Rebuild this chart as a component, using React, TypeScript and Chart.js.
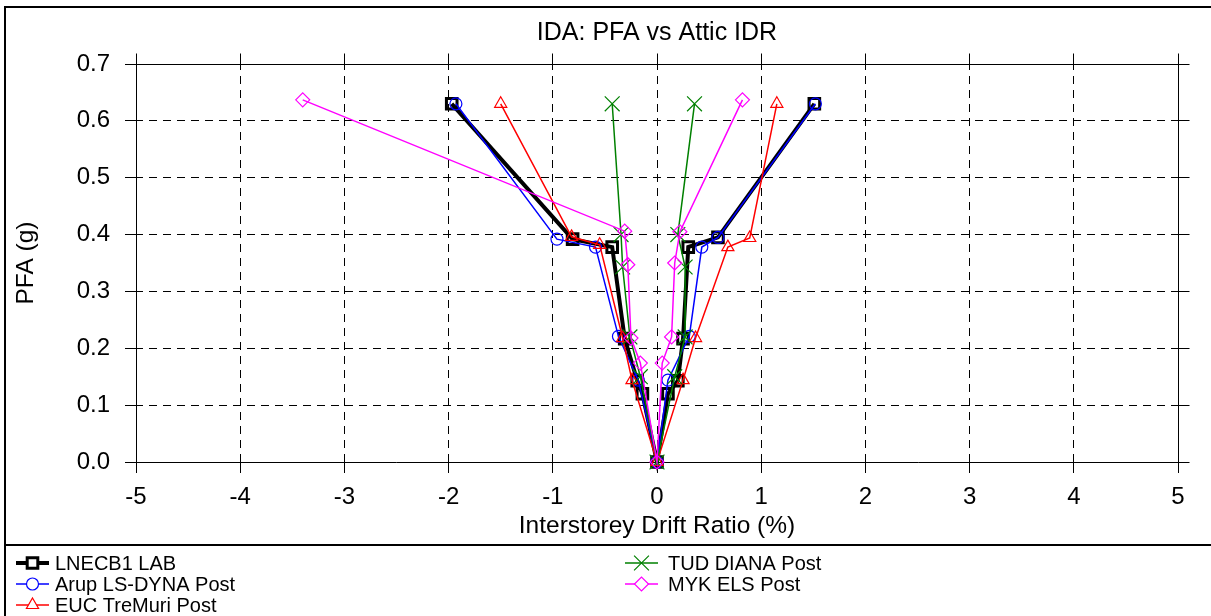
import React, { useEffect, useRef } from 'react';
import { Chart, registerables } from 'chart.js';

Chart.register(...registerables);

const FONT = '"Liberation Sans", Arial, Helvetica, sans-serif';

const chartTitle = 'IDA: PFA vs Attic IDR';
const xAxisTitle = 'Interstorey Drift Ratio (%)';
const yAxisTitle = 'PFA (g)';

const xTicks = [-5, -4, -3, -2, -1, 0, 1, 2, 3, 4, 5];
const yTicks = [0, 0.1, 0.2, 0.3, 0.4, 0.5, 0.6, 0.7];

const seriesNames = [
  'LNECB1 LAB',
  'Arup LS-DYNA Post',
  'EUC TreMuri Post',
  'TUD DIANA Post',
  'MYK ELS Post',
];

// Drift (%) and PFA (g) pairs, negative peak -> origin -> positive peak
const lnecDrift = [-1.97, -0.81, -0.43, -0.31, -0.19, -0.14, 0, 0.105, 0.2, 0.25, 0.3, 0.585, 1.51];
const lnecPfa = [0.63, 0.392, 0.378, 0.217, 0.143, 0.12, 0, 0.12, 0.143, 0.217, 0.378, 0.395, 0.63];

const arupDrift = [-1.93, -0.96, -0.59, -0.37, -0.18, 0, 0.105, 0.31, 0.43, 0.585, 1.52];
const arupPfa = [0.63, 0.392, 0.378, 0.221, 0.144, 0, 0.144, 0.221, 0.378, 0.395, 0.63];

const eucDrift = [-1.5, -0.82, -0.55, -0.33, -0.24, 0, 0.25, 0.37, 0.68, 0.89, 1.15];
const eucPfa = [0.63, 0.396, 0.382, 0.218, 0.144, 0, 0.144, 0.218, 0.378, 0.394, 0.63];

const tudDrift = [-0.43, -0.345, -0.33, -0.26, -0.16, 0, 0.17, 0.27, 0.27, 0.2, 0.36];
const tudPfa = [0.63, 0.4, 0.343, 0.22, 0.15, 0, 0.15, 0.22, 0.343, 0.4, 0.63];

const mykDrift = [-3.4, -0.31, -0.28, -0.25, -0.16, 0, 0.05, 0.14, 0.17, 0.22, 0.82];
const mykPfa = [0.637, 0.406, 0.347, 0.218, 0.174, 0, 0.174, 0.22, 0.35, 0.405, 0.637];

const seriesDrift = [lnecDrift, arupDrift, eucDrift, tudDrift, mykDrift];
const seriesPfa = [lnecPfa, arupPfa, eucPfa, tudPfa, mykPfa];

type SeriesStyle = {
  color: string;
  lineWidth: number;
  point: string;
  radius: number;
  pointWidth: number;
};

const seriesStyles: SeriesStyle[] = [
  { color: '#000000', lineWidth: 4, point: 'rect', radius: 7.5, pointWidth: 3 },
  { color: '#0000ff', lineWidth: 1.5, point: 'circle', radius: 6, pointWidth: 1.2 },
  { color: '#ff0000', lineWidth: 1.5, point: 'triangle', radius: 7, pointWidth: 1.2 },
  { color: '#008000', lineWidth: 1.5, point: 'crossRot', radius: 10.5, pointWidth: 1.2 },
  { color: '#ff00ff', lineWidth: 1.5, point: 'rectRot', radius: 7, pointWidth: 1.2 },
];

// legend slots: [column, row]
const legendSlots = [
  [0, 0],
  [0, 1],
  [0, 2],
  [1, 0],
  [1, 1],
];

function markerPath(ctx: CanvasRenderingContext2D, style: string, x: number, y: number, r: number) {
  ctx.beginPath();
  switch (style) {
    case 'rect': {
      const s = Math.SQRT1_2 * r;
      ctx.rect(x - s, y - s, 2 * s, 2 * s);
      break;
    }
    case 'circle':
      ctx.arc(x, y, r, 0, Math.PI * 2);
      break;
    case 'triangle': {
      let a = 0;
      ctx.moveTo(x + Math.sin(a) * r, y - Math.cos(a) * r);
      a += (2 * Math.PI) / 3;
      ctx.lineTo(x + Math.sin(a) * r, y - Math.cos(a) * r);
      a += (2 * Math.PI) / 3;
      ctx.lineTo(x + Math.sin(a) * r, y - Math.cos(a) * r);
      ctx.closePath();
      break;
    }
    case 'rectRot':
      ctx.moveTo(x - r, y);
      ctx.lineTo(x, y - r);
      ctx.lineTo(x + r, y);
      ctx.lineTo(x, y + r);
      ctx.closePath();
      break;
    case 'crossRot': {
      const o = Math.SQRT1_2 * r;
      ctx.moveTo(x - o, y - o);
      ctx.lineTo(x + o, y + o);
      ctx.moveTo(x + o, y - o);
      ctx.lineTo(x - o, y + o);
      break;
    }
  }
}

function align(p: number) {
  return Math.round(p - 0.5) + 0.5;
}

const decorPlugin = {
  id: 'decor',
  beforeDraw(chart: any) {
    const ctx = chart.ctx;
    ctx.save();
    ctx.fillStyle = '#ffffff';
    ctx.fillRect(0, 0, chart.width, chart.height);
    ctx.restore();
  },
  afterDraw(chart: any) {
    const { ctx, chartArea: a, scales } = chart;
    ctx.save();

    // closing plot border on top and right, with outward ticks
    const T = align(a.top);
    const R = align(a.right);
    const B = align(a.bottom);
    const L = align(a.left);
    ctx.strokeStyle = '#000';
    ctx.lineWidth = 1;
    ctx.setLineDash([]);
    ctx.beginPath();
    ctx.moveTo(L, T);
    ctx.lineTo(R, T);
    ctx.lineTo(R, B);
    for (const v of xTicks) {
      const px = align(scales.x.getPixelForValue(v));
      ctx.moveTo(px, T - 11);
      ctx.lineTo(px, T);
    }
    for (const v of yTicks) {
      const py = align(scales.y.getPixelForValue(v));
      ctx.moveTo(R, py);
      ctx.lineTo(R + 11, py);
    }
    ctx.stroke();

    // outer frames of the figure and legend panel
    ctx.fillStyle = '#000';
    ctx.fillRect(4, 6, chart.width - 4, 2);
    ctx.fillRect(4, 6, 2, chart.height - 6);
    ctx.fillRect(4, 544, chart.width - 4, 2);

    // titles
    const cx = (a.left + a.right) / 2;
    ctx.fillStyle = '#000';
    ctx.textAlign = 'center';
    ctx.textBaseline = 'middle';
    ctx.font = `25px ${FONT}`;
    ctx.fillText(chartTitle, cx, 33);
    ctx.font = `24.5px ${FONT}`;
    ctx.fillText(xAxisTitle, cx, 526);
    ctx.save();
    ctx.translate(26, (a.top + a.bottom) / 2);
    ctx.rotate(-Math.PI / 2);
    ctx.fillText(yAxisTitle, 0, 0);
    ctx.restore();

    // legend
    const colX = [16, 625];
    const textX = [55, 668];
    const rowY = [563, 584, 605];
    const sampleLen = 33;
    ctx.font = `20px ${FONT}`;
    ctx.textAlign = 'left';
    ctx.textBaseline = 'middle';
    seriesNames.forEach((name, i) => {
      const st = seriesStyles[i];
      const [c, r] = legendSlots[i];
      const x0 = colX[c];
      const y0 = rowY[r];
      ctx.strokeStyle = st.color;
      ctx.lineWidth = st.lineWidth;
      ctx.beginPath();
      ctx.moveTo(x0, y0);
      ctx.lineTo(x0 + sampleLen, y0);
      ctx.stroke();
      ctx.lineWidth = st.pointWidth;
      markerPath(ctx, st.point, x0 + sampleLen / 2, y0, st.radius);
      ctx.fillStyle = '#ffffff';
      if (st.point !== 'crossRot') ctx.fill();
      ctx.stroke();
      ctx.fillStyle = '#000';
      ctx.fillText(name, textX[c], y0 + 1);
    });

    ctx.restore();
  },
};

export default function App() {
  const canvasRef = useRef<HTMLCanvasElement | null>(null);

  useEffect(() => {
    const canvas = canvasRef.current;
    if (!canvas) return;

    const datasets = seriesNames.map((name, i) => {
      const st = seriesStyles[i];
      return {
        label: name,
        data: seriesDrift[i].map((x, k) => ({ x, y: seriesPfa[i][k] })),
        showLine: true,
        borderColor: st.color,
        borderWidth: st.lineWidth,
        backgroundColor: 'rgba(0,0,0,0)',
        pointStyle: st.point,
        pointRadius: st.radius,
        pointHoverRadius: st.radius,
        pointBorderColor: st.color,
        pointBorderWidth: st.pointWidth,
        pointBackgroundColor: 'rgba(0,0,0,0)',
        tension: 0,
        fill: false,
        clip: false as any,
        order: seriesNames.length - i,
      };
    });

    const gridCommon = {
      color: '#000000',
      lineWidth: 1,
      borderDash: [8, 6],
      borderDashOffset: 2,
      tickLength: 11,
      tickBorderDash: [],
      tickColor: '#000000',
      tickWidth: 1,
      drawTicks: true,
    };
    const borderCommon = { display: true, color: '#000000', width: 1, dash: [8, 6], dashOffset: 2 };

    const chart = new Chart(canvas, {
      type: 'scatter',
      data: { datasets },
      plugins: [decorPlugin],
      options: {
        responsive: false,
        animation: false,
        devicePixelRatio: 1,
        layout: { padding: { top: 64, right: 33, left: 0, bottom: 0 } },
        plugins: {
          legend: { display: false },
          title: { display: false },
          tooltip: { enabled: false },
        },
        scales: {
          x: {
            type: 'linear',
            min: xTicks[0],
            max: xTicks[xTicks.length - 1],
            afterBuildTicks: (scale: any) => {
              scale.ticks = xTicks.map((v) => ({ value: v }));
            },
            afterFit: (scale: any) => {
              scale.height = 154;
            },
            ticks: {
              color: '#000',
              font: { family: FONT, size: 24 },
              padding: 10,
              maxRotation: 0,
              autoSkip: false,
              callback: (v: any) => String(v),
            },
            grid: gridCommon,
            border: borderCommon,
          },
          y: {
            type: 'linear',
            min: yTicks[0],
            max: yTicks[yTicks.length - 1],
            afterBuildTicks: (scale: any) => {
              scale.ticks = yTicks.map((v) => ({ value: v }));
            },
            afterFit: (scale: any) => {
              scale.width = 136;
            },
            ticks: {
              color: '#000',
              font: { family: FONT, size: 24 },
              padding: 15,
              autoSkip: false,
              callback: (v: any) => Number(v).toFixed(1),
            },
            grid: gridCommon,
            border: borderCommon,
          },
        },
      } as any,
    });

    return () => chart.destroy();
  }, []);

  return (
    <div style={{ position: 'absolute', left: 0, top: 0, width: 1211, height: 616 }}>
      <canvas ref={canvasRef} width={1211} height={616} />
    </div>
  );
}
